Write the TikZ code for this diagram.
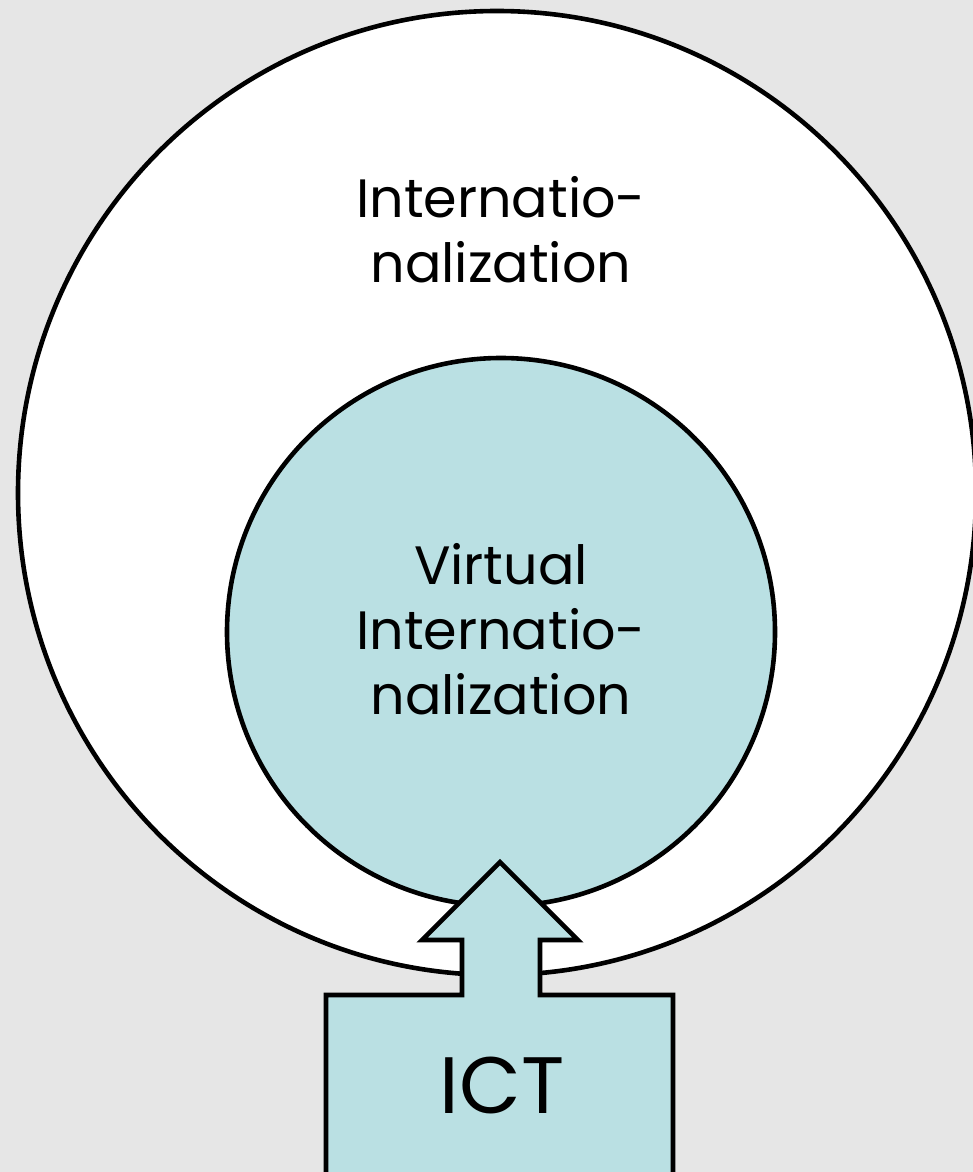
\documentclass[tikz,border=0pt]{standalone}
\usepackage{fontspec}
\setmainfont{Poppins}
\definecolor{pagegray}{HTML}{E6E6E6}
\definecolor{ictblue}{RGB}{186,224,227}
\tikzset{
  ring/.style={draw=black, line width=4.6pt},
  label/.style={align=center, font=\fontsize{54}{65}\selectfont, inner sep=0pt},
}
\begin{document}
\begin{tikzpicture}[x=1pt, y=-1pt]
  \useasboundingbox (0,0) rectangle (973,1172);
  \clip (0,0) rectangle (973,1172);
  \fill[pagegray] (0,0) rectangle (973,1172);
  % outer ring: internationalization at large
  \draw[ring, fill=white] (497,493) ellipse [x radius=479, y radius=482];
  % inner disc: the virtual part
  \draw[ring, fill=ictblue] (501,632) circle [radius=274];
  % ICT block with its upward arrow
  \coordinate (tip) at (500,862);
  \draw[ring, fill=ictblue, line join=miter]
    (tip) -- (578,940) -- (540,940) -- (540,995) -- (673,995) -- (673,1180)
    -- (326,1180) -- (326,995) -- (462,995) -- (462,940) -- (422,940) -- cycle;
  \node[label] (intl) at (501,230) {Internatio-\\nalization};
  \node[label] (vintl) at (501,629) {Virtual\\Internatio-\\nalization};
  \node[label, font=\fontsize{80}{90}\selectfont] (ict) at (502,1085) {ICT};
\end{tikzpicture}
\end{document}
